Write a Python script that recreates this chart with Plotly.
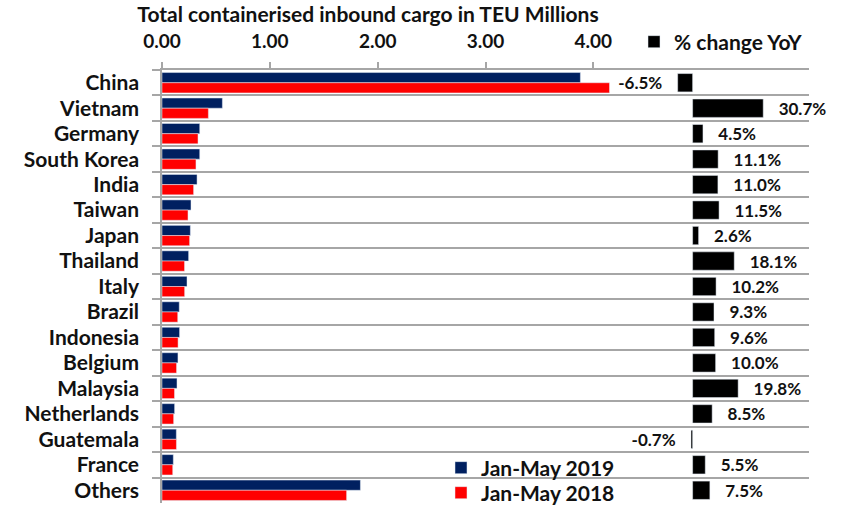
import plotly.graph_objects as go

countries = ["China", "Vietnam", "Germany", "South Korea", "India", "Taiwan", "Japan",
             "Thailand", "Italy", "Brazil", "Indonesia", "Belgium", "Malaysia",
             "Netherlands", "Guatemala", "France", "Others"]
teu_2019 = [3.88, 0.56, 0.35, 0.35, 0.325, 0.269, 0.263, 0.247, 0.232, 0.160, 0.163,
            0.148, 0.139, 0.117, 0.133, 0.105, 1.84]
teu_2018 = [4.15, 0.43, 0.334, 0.315, 0.293, 0.241, 0.256, 0.209, 0.210, 0.146, 0.149,
            0.135, 0.116, 0.108, 0.134, 0.0995, 1.712]
pct_change = [-6.5, 30.7, 4.5, 11.1, 11.0, 11.5, 2.6, 18.1, 10.2, 9.3, 9.6, 10.0, 19.8,
              8.5, -0.7, 5.5, 7.5]
x_ticks = [0, 1, 2, 3, 4]

FONT = "Lato"
GRID = "#a6a6a6"
TXT = "#111111"
NB = "\u00a0"

pct_text = [(NB * 3 + f"{v:.1f}%") if v >= 0 else (f"{v:.1f}%" + NB * 3) for v in pct_change]

fig = go.Figure()
fig.add_trace(go.Bar(
    y=countries, x=teu_2019, orientation="h", name="Jan-May 2019",
    marker=dict(color="#002060"), offset=-0.4, width=0.4, legend="legend",
))
fig.add_trace(go.Bar(
    y=countries, x=teu_2018, orientation="h", name="Jan-May 2018",
    marker=dict(color="#ff0000"), offset=0.0, width=0.4, legend="legend3",
))
fig.add_trace(go.Bar(
    y=countries, x=pct_change, orientation="h", name="% change YoY",
    marker=dict(color="#000000"), offset=-0.36, width=0.72,
    xaxis="x2", yaxis="y", legend="legend2",
    text=pct_text, textposition="outside", cliponaxis=False, constraintext="none",
    textfont=dict(family=FONT, size=17, color=TXT, weight="bold"),
))

legend_common = dict(
    xref="container", yref="container", xanchor="left", yanchor="middle",
    bgcolor="rgba(0,0,0,0)", itemwidth=30,
    font=dict(family=FONT, size=21, color=TXT, weight="bold"),
)

fig.update_layout(
    width=841, height=506,
    margin=dict(l=162, r=32, t=70, b=3, autoexpand=False),
    paper_bgcolor="white", plot_bgcolor="white",
    barmode="overlay",
    font=dict(family=FONT, size=18, color=TXT, weight="bold"),
    title=dict(text="Total containerised inbound cargo in TEU Millions",
               x=368 / 841, xanchor="center", y=1 - 15 / 506, yanchor="middle",
               font=dict(family=FONT, size=21, color=TXT, weight="bold")),
    xaxis=dict(
        side="top", range=[0, 6.0], tickvals=x_ticks, tickformat=".2f",
        showgrid=False, zeroline=False, showline=True, linecolor=GRID, linewidth=1.5,
        ticks="outside", ticklen=6, tickcolor=GRID, tickwidth=1.5,
        ticklabelstandoff=7, automargin=False,
        tickfont=dict(family=FONT, size=19, color=TXT, weight="bold"),
    ),
    xaxis2=dict(
        overlaying="x", side="bottom", range=[-230.7, 50.6], automargin=False,
        showgrid=False, zeroline=False, showticklabels=False, showline=False,
    ),
    yaxis=dict(
        type="category", autorange="reversed", tickson="boundaries",
        showgrid=True, gridcolor=GRID, gridwidth=1.5,
        showline=True, linecolor=GRID, linewidth=1.5,
        ticks="outside", ticklen=8, tickcolor=GRID, tickwidth=1.5,
        ticklabelstandoff=17, automargin=False,
        tickfont=dict(family=FONT, size=21, color=TXT, weight="bold"),
    ),
    showlegend=True,
    legend=dict(legend_common, x=441 / 841, y=1 - 468 / 506),
    legend3=dict(legend_common, x=441 / 841, y=1 - 493 / 506),
    legend2=dict(legend_common, x=634 / 841, y=1 - 42 / 506),
)

fig.write_html("out.html", config={"displayModeBar": False},
               post_script="document.body.style.margin='0';")
